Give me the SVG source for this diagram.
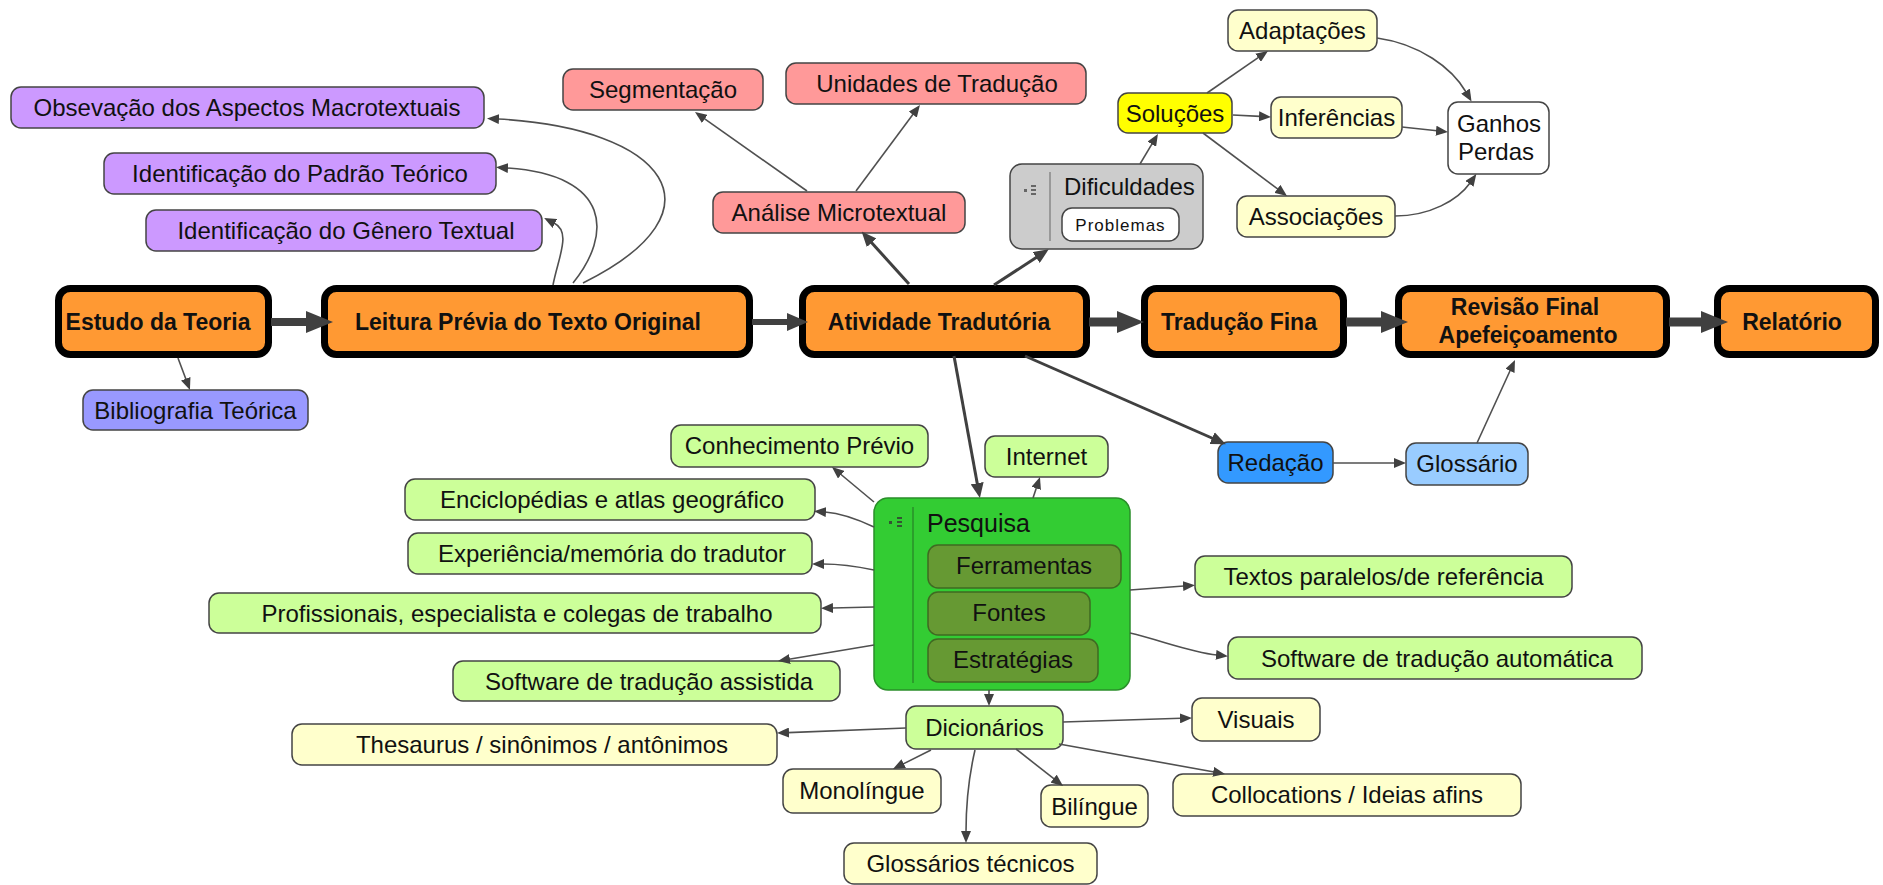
<svg xmlns="http://www.w3.org/2000/svg" width="1883" height="885" viewBox="0 0 1883 885">
<defs>
<style>
text{font-family:"Liberation Sans",Arial,sans-serif;fill:#111;}
.t{font-size:24px;text-anchor:middle;}
.mt{font-size:23px;font-weight:bold;text-anchor:middle;}
.n{stroke:#444;stroke-width:1.5;}
.m{fill:#FF9933;stroke:#000;stroke-width:7;}
.pur{fill:#CC99FF;}.blu{fill:#9999FF;}.pink{fill:#FF9999;}.gry{fill:#CCCCCC;}
.yel{fill:#FFFF00;}.ly{fill:#FFFFCC;}.wh{fill:#FFFFFF;}.red{fill:#3399FF;}.gl{fill:#99CCFF;}
.grn{fill:#33CC33;stroke:#2A8F2A;}.olv{fill:#669933;stroke:#3F6A22;}.lg{fill:#CCFF99;}
.c{fill:none;stroke:#505050;stroke-width:1.6;marker-end:url(#as);}
.cm{fill:none;stroke:#404040;stroke-width:3;marker-end:url(#am);}
.cb{fill:none;stroke:#404040;marker-end:url(#al);}
.ic{fill:#666;}
</style>
<marker id="as" markerUnits="userSpaceOnUse" markerWidth="12" markerHeight="10" refX="1" refY="5" orient="auto"><path d="M0,0 L12,5 L0,10 z" fill="#404040"/></marker>
<marker id="am" markerUnits="userSpaceOnUse" markerWidth="15" markerHeight="13" refX="1" refY="6.5" orient="auto"><path d="M0,0 L15,6.5 L0,13 z" fill="#404040"/></marker>
<marker id="al" markerUnits="userSpaceOnUse" markerWidth="27" markerHeight="22" refX="1" refY="11" orient="auto"><path d="M0,0 L27,11 L0,22 z" fill="#404040"/></marker>
<marker id="alm" markerUnits="userSpaceOnUse" markerWidth="21" markerHeight="18" refX="1" refY="9" orient="auto"><path d="M0,0 L21,9 L0,18 z" fill="#404040"/></marker>
</defs>
<rect x="0" y="0" width="1883" height="885" fill="#FFFFFF"/>

<g id="nodes">
<g id="estudo"><rect class="m" x="58.5" y="288.5" width="210" height="66" rx="12"/><text class="mt" x="158" y="330">Estudo da Teoria</text></g>
<g id="leitura"><rect class="m" x="324.5" y="288.5" width="425" height="66" rx="12"/><text class="mt" x="528" y="330">Leitura Prévia do Texto Original</text></g>
<g id="atividade"><rect class="m" x="802.5" y="288.5" width="284" height="66" rx="12"/><text class="mt" x="939" y="330">Atividade Tradutória</text></g>
<g id="traducao"><rect class="m" x="1144.5" y="288.5" width="199" height="66" rx="12"/><text class="mt" x="1239" y="330">Tradução Fina</text></g>
<g id="revisao"><rect class="m" x="1398.5" y="288.5" width="268" height="66" rx="12"/><text class="mt" x="1525" y="315">Revisão Final</text><text class="mt" x="1528" y="343">Apefeiçoamento</text></g>
<g id="relatorio"><rect class="m" x="1717.5" y="288.5" width="158" height="66" rx="12"/><text class="mt" x="1792" y="330">Relatório</text></g>

<g id="obs"><rect class="n pur" x="11" y="87" width="473" height="41" rx="10"/><text class="t" x="247" y="116">Obsevação dos Aspectos Macrotextuais</text></g>
<g id="padrao"><rect class="n pur" x="104" y="153" width="392" height="41" rx="10"/><text class="t" x="300" y="182">Identificação do Padrão Teórico</text></g>
<g id="genero"><rect class="n pur" x="146" y="210" width="396" height="41" rx="10"/><text class="t" x="346" y="239">Identificação do Gênero Textual</text></g>
<g id="biblio"><rect class="n blu" x="83" y="390" width="225" height="40" rx="10"/><text class="t" x="195.5" y="418.5">Bibliografia Teórica</text></g>

<g id="segm"><rect class="n pink" x="563" y="69" width="200" height="41" rx="10"/><text class="t" x="663" y="98">Segmentação</text></g>
<g id="unid"><rect class="n pink" x="786" y="63" width="300" height="41" rx="10"/><text class="t" x="937" y="92">Unidades de Tradução</text></g>
<g id="analise"><rect class="n pink" x="713" y="192" width="252" height="41" rx="10"/><text class="t" x="839" y="221">Análise Microtextual</text></g>

<g id="dificuldades"><rect class="n gry" x="1010" y="164" width="193" height="85" rx="12"/>
<line x1="1050" y1="172" x2="1050" y2="241" stroke="#888" stroke-width="1.5"/>
<rect class="ic" x="1024" y="189" width="3" height="3"/><rect class="ic" x="1031" y="185" width="5" height="2"/><rect class="ic" x="1031" y="189" width="5" height="2"/><rect class="ic" x="1031" y="193" width="5" height="2"/>
<text x="1064" y="195" style="font-size:24px">Dificuldades</text>
<rect class="n wh" x="1062" y="208" width="117" height="33" rx="10"/><text x="1120.5" y="231" style="font-size:17px;letter-spacing:1px;text-anchor:middle">Problemas</text></g>

<g id="solucoes"><rect class="n yel" x="1118" y="93" width="114" height="40" rx="10"/><text class="t" x="1175" y="121.5">Soluções</text></g>
<g id="adapt"><rect class="n ly" x="1228" y="10" width="149" height="41" rx="10"/><text class="t" x="1302.5" y="39">Adaptações</text></g>
<g id="infer"><rect class="n ly" x="1271" y="97" width="131" height="41" rx="10"/><text class="t" x="1336.5" y="126">Inferências</text></g>
<g id="assoc"><rect class="n ly" x="1237" y="196" width="158" height="41" rx="10"/><text class="t" x="1316" y="225">Associações</text></g>
<g id="ganhos"><rect class="n wh" x="1448" y="102" width="101" height="72" rx="10"/><text class="t" x="1499" y="132">Ganhos</text><text class="t" x="1496" y="160">Perdas</text></g>

<g id="redacao"><rect class="n red" x="1218" y="442" width="115" height="41" rx="10"/><text class="t" x="1275.5" y="471">Redação</text></g>
<g id="glossario"><rect class="n gl" x="1406" y="443" width="122" height="42" rx="10"/><text class="t" x="1467" y="472">Glossário</text></g>

<g id="pesquisa"><rect class="grn" stroke-width="1.5" x="874" y="498" width="256" height="192" rx="14"/>
<line x1="913" y1="507" x2="913" y2="683" stroke="#2A8F2A" stroke-width="1.5"/>
<rect class="ic" x="889" y="521" width="3" height="3" style="fill:#335533"/><rect class="ic" x="897" y="517" width="5" height="2" style="fill:#335533"/><rect class="ic" x="897" y="521" width="5" height="2" style="fill:#335533"/><rect class="ic" x="897" y="525" width="5" height="2" style="fill:#335533"/>
<text x="927" y="532" style="font-size:25px">Pesquisa</text>
<rect class="olv" stroke-width="1.5" x="928" y="545" width="193" height="43" rx="10"/><text class="t" x="1024" y="574">Ferramentas</text>
<rect class="olv" stroke-width="1.5" x="928" y="592" width="162" height="43" rx="10"/><text class="t" x="1009" y="621">Fontes</text>
<rect class="olv" stroke-width="1.5" x="928" y="639" width="170" height="43" rx="10"/><text class="t" x="1013" y="668">Estratégias</text></g>

<g id="conhec"><rect class="n lg" x="671" y="425" width="257" height="42" rx="10"/><text class="t" x="799.5" y="454">Conhecimento Prévio</text></g>
<g id="internet"><rect class="n lg" x="985" y="436" width="123" height="41" rx="10"/><text class="t" x="1046.5" y="465">Internet</text></g>
<g id="encicl"><rect class="n lg" x="405" y="479" width="410" height="41" rx="10"/><text class="t" x="612" y="508">Enciclopédias e atlas geográfico</text></g>
<g id="exper"><rect class="n lg" x="408" y="533" width="404" height="41" rx="10"/><text class="t" x="612" y="562">Experiência/memória do tradutor</text></g>
<g id="profis"><rect class="n lg" x="209" y="593" width="612" height="40" rx="10"/><text class="t" x="517" y="621.5">Profissionais, especialista e colegas de trabalho</text></g>
<g id="softass"><rect class="n lg" x="453" y="661" width="387" height="40" rx="10"/><text class="t" x="649" y="689.5">Software de tradução assistida</text></g>
<g id="textos"><rect class="n lg" x="1195" y="556" width="377" height="41" rx="10"/><text class="t" x="1383.5" y="585">Textos paralelos/de referência</text></g>
<g id="softaut"><rect class="n lg" x="1228" y="637" width="414" height="42" rx="10"/><text class="t" x="1437" y="666.5">Software de tradução automática</text></g>
<g id="dicion"><rect class="n lg" x="906" y="706" width="157" height="43" rx="10"/><text class="t" x="984.5" y="736">Dicionários</text></g>

<g id="thes"><rect class="n ly" x="292" y="724" width="485" height="41" rx="10"/><text class="t" x="542" y="753">Thesaurus / sinônimos / antônimos</text></g>
<g id="visuais"><rect class="n ly" x="1192" y="698" width="128" height="43" rx="10"/><text class="t" x="1256" y="728">Visuais</text></g>
<g id="mono"><rect class="n ly" x="783" y="769" width="158" height="44" rx="10"/><text class="t" x="862" y="799">Monolíngue</text></g>
<g id="bil"><rect class="n ly" x="1041" y="785" width="107" height="42" rx="10"/><text class="t" x="1094.5" y="814.5">Bilíngue</text></g>
<g id="colloc"><rect class="n ly" x="1173" y="774" width="348" height="42" rx="10"/><text class="t" x="1347" y="803">Collocations / Ideias afins</text></g>
<g id="glosstec"><rect class="n ly" x="844" y="843" width="253" height="41" rx="10"/><text class="t" x="970.5" y="872">Glossários técnicos</text></g>
</g>

<g id="connectors">
<path class="cb" stroke-width="8" d="M271,322 H307"/>
<path class="cb" stroke-width="6" d="M752,322 H788" style="marker-end:url(#alm)"/>
<path class="cb" stroke-width="9" d="M1089,322 H1118"/>
<path class="cb" stroke-width="9" d="M1346,322 H1382"/>
<path class="cb" stroke-width="9" d="M1669,322 H1702"/>

<path class="c" d="M178,358 L186.1,379.7"/>
<path class="c" stroke-width="2.2" d="M553,285 C558,258 572,232 554,223"/>
<path class="c" stroke-width="2.2" d="M573,283 C612,235 612,175 507,168"/>
<path class="c" stroke-width="2.2" d="M583,283 C730,210 665,128 498,119"/>

<path class="cm" d="M909,284 L871,242"/>
<path class="c" d="M807,191 L704,118.3"/>
<path class="c" d="M856,191 L913.4,113.8"/>
<path class="cm" d="M994,285 L1037,257"/>
<path class="c" d="M1140,164 L1152.3,143.4"/>
<path class="c" d="M1207,93 L1258.9,57.2"/>
<path class="c" d="M1233,115 L1260,116.4"/>
<path class="c" d="M1203,133 L1278.2,189.4"/>
<path class="c" d="M1377,38 C1420,44 1452,68 1466,92"/>
<path class="c" d="M1402,127 L1437,130.8"/>
<path class="c" d="M1395,216 C1430,216 1458,200 1470,183"/>

<path class="cm" d="M954,356 L977.4,484.2"/>
<path class="cm" d="M1025,356 L1213,438.5"/>
<path class="c" d="M1333,463 L1395,463"/>
<path class="c" d="M1477,443 L1510.4,370"/>

<path class="c" d="M1033,498 L1036.5,487.4"/>
<path class="c" d="M874,502 L840.4,474"/>
<path class="c" d="M874,527 C855,518 838,513 825,512"/>
<path class="c" d="M874,570 C855,566 838,564 823,564"/>
<path class="c" d="M874,607 L832,608"/>
<path class="c" d="M874,645 L788.9,659.2"/>
<path class="c" d="M1130,590 L1184,586"/>
<path class="c" d="M1130,633 C1160,640 1190,652 1217,655"/>
<path class="c" d="M989,690 L989,695"/>
<path class="c" d="M906,728 L788,732.6"/>
<path class="c" d="M1063,722 L1181,718.3"/>
<path class="c" d="M931,750 L902.8,764.1"/>
<path class="c" d="M975,750 C968,780 966,810 966,832"/>
<path class="c" d="M1016,749 L1054.4,779.2"/>
<path class="c" d="M1059,744 L1214.2,772"/>
</g>
</svg>
